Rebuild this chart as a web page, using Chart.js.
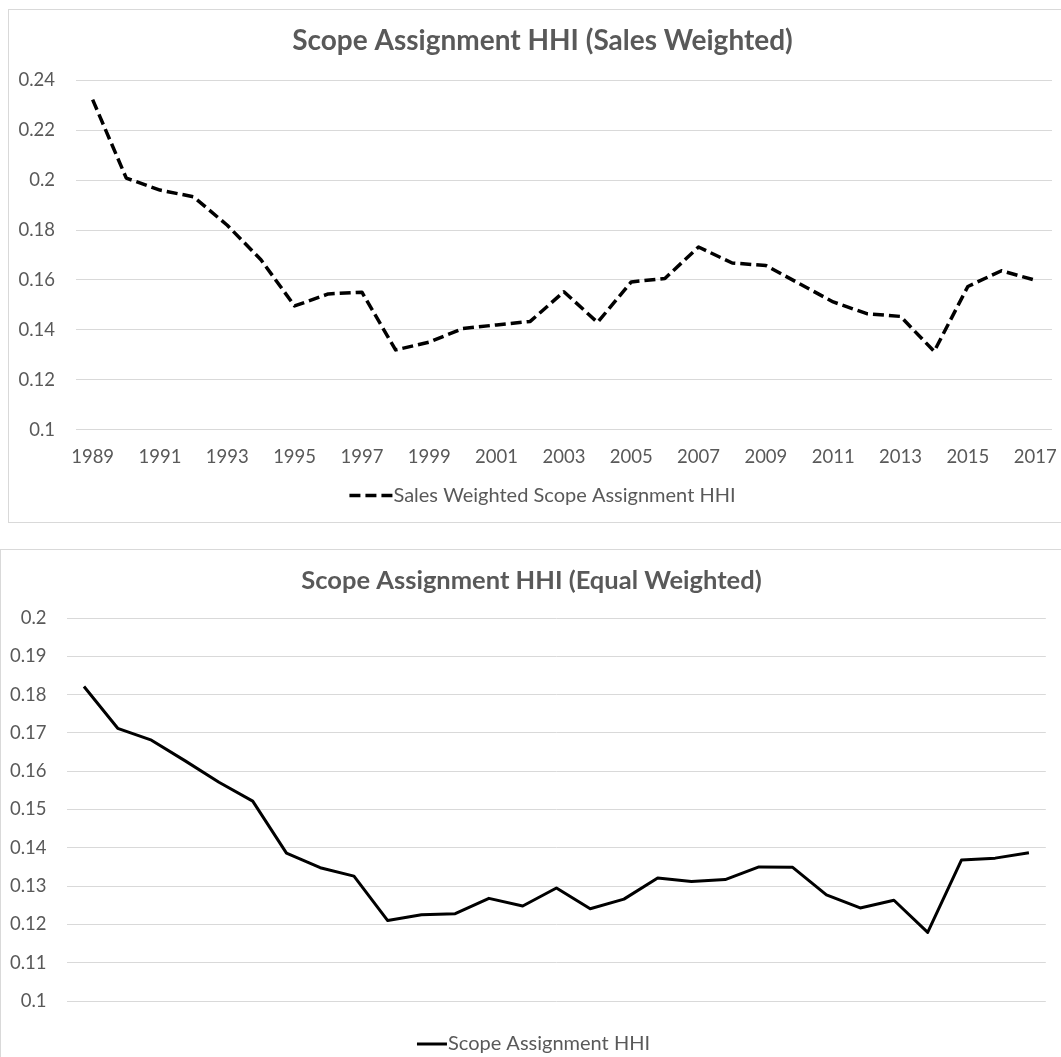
<!DOCTYPE html>
<html><head><meta charset="utf-8">
<script src="https://cdn.jsdelivr.net/npm/chart.js@4/dist/chart.umd.min.js"></script>
<style>
html,body{margin:0;padding:0;background:#fff;overflow:hidden;width:1061px;height:1057px;}
.box{position:absolute;border:1px solid #d9d9d9;background:#fff;}
.box .inner{position:relative;width:100%;height:100%;}
#b1{left:8px;top:9px;width:1067px;height:512px;}
#b2{left:0px;top:549px;width:1078px;height:518px;}
</style></head><body>
<div class="box" id="b1"><div class="inner"><canvas id="c1"></canvas></div></div>
<div class="box" id="b2"><div class="inner"><canvas id="c2"></canvas></div></div>
<script>
const years = ['1989','1990','1991','1992','1993','1994','1995','1996','1997','1998','1999','2000','2001','2002','2003','2004','2005','2006','2007','2008','2009','2010','2011','2012','2013','2014','2015','2016','2017'];
const salesWeighted = [0.2322,0.2008,0.1960,0.1933,0.1819,0.1681,0.1496,0.1544,0.1551,0.1320,0.1351,0.1406,0.1420,0.1434,0.1553,0.1430,0.1592,0.1606,0.1732,0.1668,0.1658,0.1585,0.1512,0.1465,0.1454,0.1314,0.1574,0.1637,0.1599];
const equalWeighted = [0.1821,0.1712,0.1681,0.1627,0.1571,0.1522,0.1386,0.1348,0.1326,0.1210,0.1225,0.1228,0.1268,0.1248,0.1295,0.1241,0.1266,0.1321,0.1312,0.1317,0.1350,0.1349,0.1277,0.1243,0.1263,0.1179,0.1368,0.1373,0.1387];
const xTickLabelsTop = ['1989','1991','1993','1995','1997','1999','2001','2003','2005','2007','2009','2011','2013','2015','2017'];
const yTicksTop = [0.1,0.12,0.14,0.16,0.18,0.2,0.22,0.24];
const yTicksBottom = [0.1,0.11,0.12,0.13,0.14,0.15,0.16,0.17,0.18,0.19,0.2];
const titleTop = 'Scope Assignment HHI (Sales Weighted)';
const titleBottom = 'Scope Assignment HHI (Equal Weighted)';
const labelTop = 'Sales Weighted Scope Assignment HHI';
const labelBottom = 'Scope Assignment HHI';

const GRAY = '#595959', GRID = '#d9d9d9', FONT = 'Lato';

// Draws the chart title and an Excel-style legend (line sample touching its text)
const decor = {
  id: 'decor',
  afterDraw(chart, args, opts) {
    const ds = chart.data.datasets[0];
    const ctx = chart.ctx;
    ctx.save();
    // title
    ctx.font = 'bold ' + opts.titleSize + 'px ' + opts.family;
    ctx.fillStyle = opts.color;
    ctx.textAlign = 'center'; ctx.textBaseline = 'middle';
    ctx.fillText(opts.title, opts.titleX, opts.titleY);
    // legend
    ctx.font = opts.legendSize + 'px ' + opts.family;
    const tw = ctx.measureText(ds.label).width;
    const total = opts.legendLine + opts.gap + tw;
    const x0 = opts.legendX - total / 2;
    const y = chart.chartArea.bottom + opts.legendOffset;
    ctx.strokeStyle = ds.borderColor;
    ctx.lineWidth = ds.borderWidth;
    ctx.lineCap = 'butt';
    ctx.setLineDash(ds.borderDash || []);
    ctx.beginPath(); ctx.moveTo(x0, y); ctx.lineTo(x0 + opts.legendLine, y); ctx.stroke();
    ctx.setLineDash([]);
    ctx.textAlign = 'left';
    ctx.fillText(ds.label, x0 + opts.legendLine + opts.gap, y);
    ctx.restore();
  }
};

function fmt(v) { return String(Math.round(Number(v) * 100) / 100); }

function makeChart(id, cfg) {
  return new Chart(document.getElementById(id), {
    type: 'line',
    data: {
      labels: years,
      datasets: [{
        label: cfg.label,
        data: cfg.data,
        borderColor: '#000000',
        borderWidth: cfg.lineWidth,
        borderDash: cfg.dash,
        borderJoinStyle: 'round',
        pointRadius: 0,
        tension: 0,
        fill: false
      }]
    },
    plugins: [decor],
    options: {
      responsive: true,
      maintainAspectRatio: false,
      animation: false,
      devicePixelRatio: 1,
      layout: { padding: cfg.padding },
      plugins: {
        legend: { display: false },
        tooltip: { enabled: false },
        title: { display: false },
        decor: {
          title: cfg.title, titleSize: cfg.titleSize, titleX: cfg.titleX, titleY: cfg.titleY,
          legendX: cfg.legendX, legendLine: cfg.legendLine, legendOffset: cfg.legendOffset,
          legendSize: 20, gap: 1, family: FONT, color: GRAY
        }
      },
      scales: {
        x: {
          type: 'category', offset: true, display: cfg.showX,
          grid: { display: false, drawTicks: false },
          border: { display: false },
          ticks: {
            color: GRAY, font: { family: FONT, size: 18.5 }, padding: 16.5,
            maxRotation: 0, autoSkip: false,
            callback: function (v, i) { return xTickLabelsTop.includes(years[i]) ? years[i] : ''; }
          }
        },
        y: {
          min: cfg.yMin, max: cfg.yMax,
          afterBuildTicks: function (s) { s.ticks = cfg.yTicks.map(v => ({ value: v })); },
          afterFit: function (s) { s.width = cfg.yWidth; },
          grid: { color: GRID, lineWidth: 1, drawTicks: false },
          border: { display: false },
          ticks: { color: GRAY, font: { family: FONT, size: 18.5 }, padding: cfg.yPad, callback: fmt }
        }
      }
    }
  });
}

makeChart('c1', {
  label: labelTop, data: salesWeighted, lineWidth: 3.5, dash: [11, 5],
  title: titleTop, titleSize: 28, titleX: 533.5, titleY: 31,
  padding: { left: 0, right: 24, top: 70.2, bottom: 37 },
  legendX: 533.5, legendLine: 43, legendOffset: 65.6, showX: true,
  yMin: 0.1, yMax: 0.24, yTicks: yTicksTop, yWidth: 66.8, yPad: 20.8
});

makeChart('c2', {
  label: labelBottom, data: equalWeighted, lineWidth: 3, dash: [],
  title: titleBottom, titleSize: 25.5, titleX: 530.5, titleY: 30.5,
  padding: { left: 0, right: 33.2, top: 68, bottom: 67 },
  legendX: 532.5, legendLine: 30, legendOffset: 43, showX: false,
  yMin: 0.1, yMax: 0.2, yTicks: yTicksBottom, yWidth: 66.1, yPad: 20.6
});
</script>
</body></html>
